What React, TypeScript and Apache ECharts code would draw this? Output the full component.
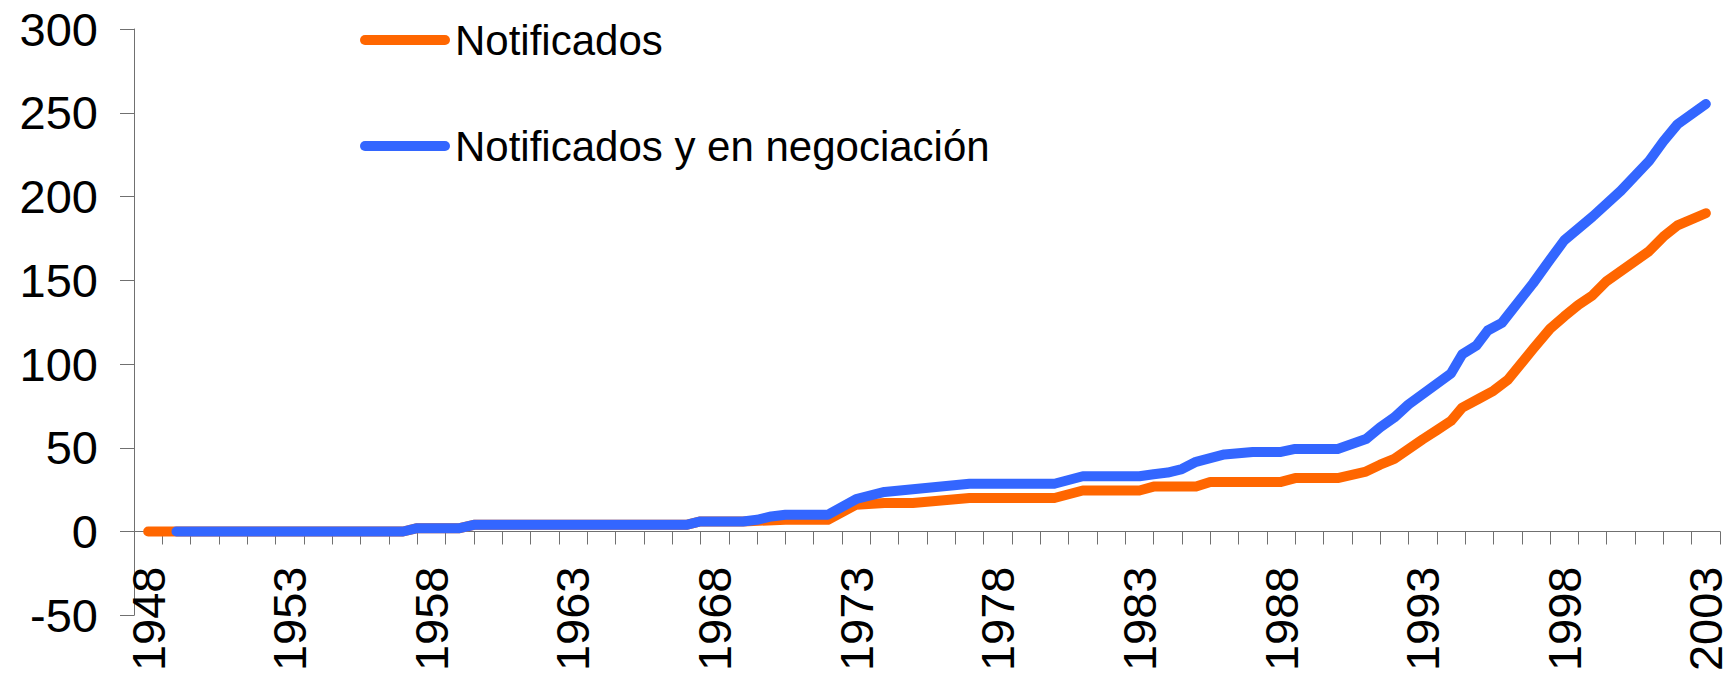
import { useEffect, useRef } from "react";
import * as echarts from "echarts";

// Category tick labels (one slot per year)
const categories: string[] = Array.from({ length: 56 }, (_, i) => String(1948 + i));

const seriesNames = ["Notificados", "Notificados y en negociación"];

// Notificados (orange) – vertices (fractional years)
const notifYears = [
  1948, 1957, 1957.5, 1959, 1959.5, 1967, 1967.5, 1969, 1970.5, 1972, 1973, 1974, 1975, 1977,
  1980, 1981, 1983, 1983.5, 1985, 1985.5, 1988, 1988.5, 1990, 1991, 1991.5, 1992, 1993, 1993.5,
  1994, 1994.4, 1995, 1995.5, 1996, 1996.9, 1997.5, 1998, 1998.5, 1999, 1999.5, 2001, 2001.5,
  2002, 2003,
];
const notifValues = [
  0, 0, 2, 2, 4, 4, 6, 6, 7, 7, 16, 17, 17, 20,
  20, 24.5, 24.5, 26.8, 26.8, 29.6, 29.6, 31.9, 31.9, 35.8, 39.9, 43.4, 55, 60.4,
  66, 74, 79.4, 84, 90.4, 109, 121, 128.4, 135.3, 141, 149.5, 167.4, 176,
  182.8, 190,
];

// Notificados y en negociación (blue)
const negoYears = [
  1949, 1957, 1957.5, 1959, 1959.5, 1967, 1967.5, 1969, 1969.5, 1970, 1970.5, 1972, 1973, 1974,
  1977, 1980, 1981, 1983, 1983.5, 1984, 1984.5, 1985, 1986, 1987, 1988, 1988.5, 1990, 1991,
  1991.5, 1992, 1992.5, 1994, 1994.4, 1994.9, 1995.3, 1995.8, 1996, 1996.9, 1997.5, 1998, 1999,
  2000, 2001, 2001.5, 2002, 2003,
];
const negoValues = [
  0, 0, 2, 2, 4, 4, 6, 6, 7, 9, 10, 10, 19.4, 23.6,
  28.5, 28.5, 33, 33, 34.2, 35.2, 37.3, 41.6, 46, 47.5, 47.5, 49.3, 49.3, 55.2,
  62.2, 68.1, 75.8, 94.3, 105.8, 111, 120, 124.6, 128.9, 148.2, 162.3, 173.8, 188,
  203.4, 221.3, 232.9, 243.1, 255.2,
];

const yTicks = { min: -50, max: 300, interval: 50 };

const FONT = "'Liberation Sans', Arial, sans-serif";
const AXIS_COLOR = "#707070";

const GRID_TOP = 29;
const GRID_BOTTOM = 58.75;
const GRID_HEIGHT = 674 - GRID_TOP - GRID_BOTTOM;
// distance from the y = min line up to the y = 0 line (where the category axis sits)
const ZERO_OFFSET = (GRID_HEIGHT * (0 - yTicks.min)) / (yTicks.max - yTicks.min);

export default function App() {
  const ref = useRef<HTMLDivElement>(null);

  useEffect(() => {
    if (!ref.current) return;
    const chart = echarts.init(ref.current, undefined, { renderer: "svg" });
    const capsule = "path://M5 0H85A5 5 0 0 1 85 10H5A5 5 0 0 1 5 0Z";
    chart.setOption({
      animation: false,
      backgroundColor: "#ffffff",
      textStyle: { fontFamily: FONT },
      grid: {
        left: 134,
        right: 9,
        top: GRID_TOP,
        bottom: GRID_BOTTOM,
        containLabel: false,
        outerBoundsMode: "none",
      },
      legend: {
        data: seriesNames,
        orient: "vertical",
        left: 355,
        top: 14,
        itemWidth: 90,
        itemHeight: 10,
        itemGap: 64,
        icon: capsule,
        textStyle: { fontSize: 42, color: "#000000", fontFamily: FONT },
      },
      xAxis: [
        {
          type: "category",
          data: categories,
          boundaryGap: true,
          position: "bottom",
          offset: -ZERO_OFFSET,
          axisLine: { show: true, onZero: false, lineStyle: { color: AXIS_COLOR, width: 1 } },
          axisTick: { show: true, interval: 0, length: 13, lineStyle: { color: AXIS_COLOR } },
          axisLabel: {
            interval: 4,
            rotate: 90,
            margin: 35,
            fontSize: 47,
            color: "#000000",
            fontFamily: FONT,
          },
          splitLine: { show: false },
        },
        {
          type: "value",
          min: 1947.5,
          max: 2003.5,
          show: false,
          splitLine: { show: false },
        },
      ],
      yAxis: {
        type: "value",
        min: yTicks.min,
        max: yTicks.max,
        interval: yTicks.interval,
        axisLine: { show: true, onZero: false, lineStyle: { color: AXIS_COLOR, width: 1 } },
        axisTick: { show: true, length: 14, lineStyle: { color: AXIS_COLOR } },
        axisLabel: { fontSize: 47, color: "#000000", margin: 36, fontFamily: FONT },
        splitLine: { show: false },
      },
      series: [
        {
          name: seriesNames[0],
          type: "line",
          xAxisIndex: 1,
          symbol: "none",
          color: "#FF6600",
          lineStyle: { color: "#FF6600", width: 10, cap: "round", join: "round" },
          data: notifYears.map((y, i) => [y, notifValues[i]]),
        },
        {
          name: seriesNames[1],
          type: "line",
          xAxisIndex: 1,
          symbol: "none",
          color: "#3366FF",
          lineStyle: { color: "#3366FF", width: 10, cap: "round", join: "round" },
          data: negoYears.map((y, i) => [y, negoValues[i]]),
        },
      ],
    });
    return () => chart.dispose();
  }, []);

  return (
    <div
      ref={ref}
      style={{ position: "fixed", left: 0, top: 0, width: 1729, height: 674, background: "#fff" }}
    />
  );
}
